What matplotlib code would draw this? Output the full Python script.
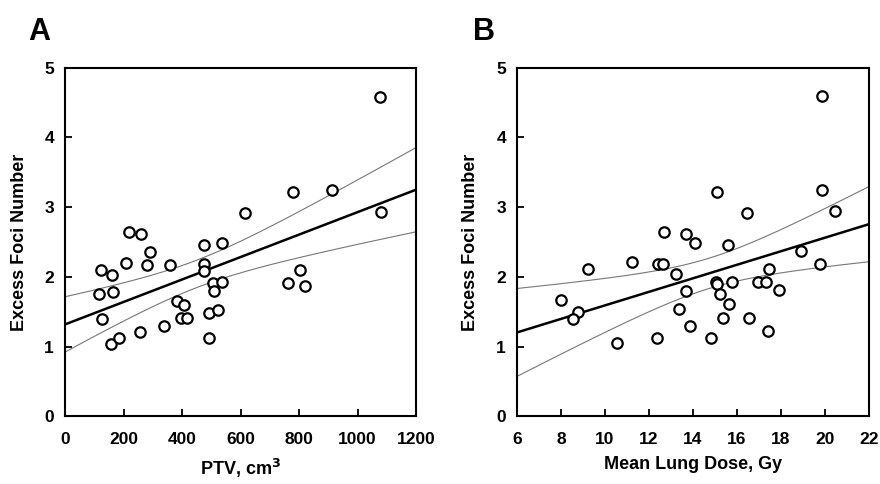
import numpy as np
import matplotlib
matplotlib.use('Agg')
import matplotlib.pyplot as plt

plt.rcParams['font.family'] = ['Liberation Sans Narrow', 'Liberation Sans', 'DejaVu Sans']
plt.rcParams['font.weight'] = 'bold'

# Panel A: PTV (cm3) vs excess foci number
ptv = [219, 260, 615, 1075, 778, 914, 1079,
       475, 538, 291, 122, 160, 207, 279, 359, 475, 475, 504, 538, 509,
       117, 163, 384, 408, 128, 396, 416, 492, 522, 338, 256, 156, 185, 492,
       803, 761, 820]
foci_a = [2.65, 2.62, 2.91, 4.58, 3.21, 3.24, 2.93,
          2.45, 2.48, 2.36, 2.10, 2.03, 2.20, 2.17, 2.17, 2.18, 2.08, 1.91, 1.92, 1.80,
          1.76, 1.79, 1.66, 1.60, 1.40, 1.41, 1.41, 1.48, 1.53, 1.29, 1.21, 1.04, 1.12, 1.12,
          2.10, 1.91, 1.87]

# Panel B: mean lung dose (Gy) vs excess foci number
mld = [12.70, 13.67, 14.09, 19.85, 15.08, 19.85, 16.44, 20.45,
       9.21, 11.24, 12.40, 12.62, 13.23, 13.67, 13.36, 13.86, 8.00, 8.79, 8.56, 10.56, 12.36,
       15.61, 18.91, 19.77, 17.45, 15.03, 15.08, 15.79, 16.97, 17.32, 15.23, 17.92,
       15.65, 15.35, 16.55, 17.42, 14.80]
foci_b = [2.65, 2.62, 2.49, 4.59, 3.22, 3.25, 2.92, 2.94,
          2.11, 2.21, 2.19, 2.18, 2.04, 1.80, 1.54, 1.30, 1.67, 1.50, 1.40, 1.05, 1.13,
          2.45, 2.37, 2.18, 2.11, 1.92, 1.90, 1.92, 1.93, 1.92, 1.76, 1.81,
          1.61, 1.41, 1.41, 1.23, 1.13]

T_CRIT = 2.03  # t(0.975, df=35)


def fit_band(x, y, xs):
    x = np.asarray(x, float)
    y = np.asarray(y, float)
    n = len(x)
    b, a = np.polyfit(x, y, 1)
    resid = y - (a + b * x)
    s = np.sqrt(np.sum(resid ** 2) / (n - 2))
    sxx = np.sum((x - x.mean()) ** 2)
    yhat = a + b * xs
    se = s * np.sqrt(1.0 / n + (xs - x.mean()) ** 2 / sxx)
    return yhat, yhat - T_CRIT * se, yhat + T_CRIT * se


def draw_panel(ax, x, y, xlim, xticks, xlabel, letter, letter_x):
    xs = np.linspace(xlim[0], xlim[1], 200)
    yhat, lo, hi = fit_band(x, y, xs)
    ax.plot(xs, hi, color='#777777', lw=0.8)
    ax.plot(xs, lo, color='#777777', lw=0.8)
    ax.plot(xs, yhat, color='black', lw=1.8)
    ax.plot(x, y, 'o', ms=7.5, mfc='white', mec='black', mew=1.6, zorder=3)
    ax.set_xlim(xlim)
    ax.set_ylim(0, 5)
    ax.set_xticks(xticks)
    ax.set_yticks(range(6))
    ax.tick_params(direction='in', length=5, width=1.3, labelsize=12.5, top=False, right=False)
    ax.tick_params(axis='x', pad=11)
    ax.tick_params(axis='y', pad=8)
    for sp in ax.spines.values():
        sp.set_linewidth(1.5)
    ax.set_xlabel(xlabel, fontsize=13, fontweight='bold', labelpad=7)
    ax.set_ylabel('Excess Foci Number', fontsize=13, fontweight='bold', labelpad=12)
    ax.text(letter_x, 1.079, letter, transform=ax.transAxes, fontsize=22,
            fontweight='bold', va='baseline', family=['Liberation Sans', 'DejaVu Sans'])


fig = plt.figure(figsize=(8.8, 4.84), dpi=100)
ax1 = fig.add_axes([0.0739, 0.1395, 0.399, 0.721])
ax2 = fig.add_axes([0.5875, 0.1395, 0.400, 0.721])

draw_panel(ax1, ptv, foci_a, (0, 1200), range(0, 1201, 200), 'PTV, cm$^{\\mathbf{3}}$', 'A', -0.105)
draw_panel(ax2, mld, foci_b, (6, 22), range(6, 23, 2), 'Mean Lung Dose, Gy', 'B', -0.125)

fig.savefig('out.png', dpi=100)
